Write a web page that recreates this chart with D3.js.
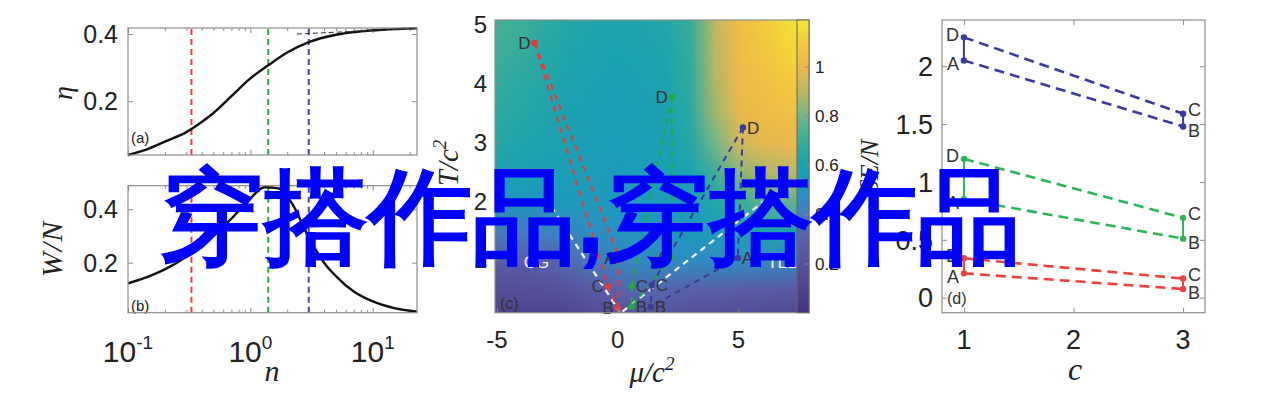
<!DOCTYPE html>
<html>
<head>
<meta charset="utf-8">
<script src="https://cdn.jsdelivr.net/npm/d3@7"></script>
<style>
body { margin: 0; background: #fff; }
figure { margin: 0; }
svg { display: block; }
text { font-family: "Liberation Sans", Arial, sans-serif; fill: #222; }
.math { font-family: "Liberation Serif", "DejaVu Serif", serif; font-style: italic; }
</style>
</head>
<body>
<figure id="chart"></figure>
<script>
// ---- data: panels (a) and (b), curves vs n
var nEta = [0.1, 0.15, 0.2, 0.3, 0.4, 0.5, 0.7, 1.0, 1.4, 2, 3, 5, 8, 12, 23];
var etaVals = [0.040, 0.060, 0.080, 0.108, 0.138, 0.165, 0.215, 0.268, 0.307, 0.345, 0.376, 0.398, 0.408, 0.413, 0.417];
var etaLimitN = [2.4, 23];
var etaLimitV = [0.400, 0.417];
var nW = [0.1, 0.15, 0.2, 0.3, 0.5, 0.7, 1.0, 1.3, 1.7, 2.2, 3, 4, 5, 7, 10, 15, 23];
var wVals = [0.123, 0.150, 0.175, 0.222, 0.300, 0.365, 0.440, 0.482, 0.478, 0.420, 0.295, 0.200, 0.150, 0.092, 0.055, 0.030, 0.017];
var nMarks = [0.33, 1.4, 3.0];
var markColors = ["#e8403a", "#22b04c", "#4848a8"];
var logTicks = [0.1, 1, 10];
var logExps = ["-1", "0", "1"];
var logMinor = [0.2, 0.3, 0.4, 0.5, 0.6, 0.7, 0.8, 0.9, 2, 3, 4, 5, 6, 7, 8, 9, 20];
var etaTicks = [0.2, 0.4];
var wTicks = [0.2, 0.4];

// ---- data: panel (c), heat map over mu/c^2 and T/c^2
var muGrid = [-5, -4, -3, -2, -1, 0, 1, 2, 3, 4, 5, 6, 7, 8];
var tGrid = [0, 0.5, 1, 1.5, 2, 2.5, 3, 3.5, 4, 4.5, 5];
var heat = [
  [0.10, 0.10, 0.10, 0.11, 0.14, 0.18, 0.19, 0.18, 0.16, 0.15, 0.14, 0.13, 0.12, 0.11],
  [0.18, 0.18, 0.19, 0.21, 0.26, 0.31, 0.33, 0.32, 0.30, 0.29, 0.28, 0.27, 0.26, 0.25],
  [0.28, 0.28, 0.30, 0.34, 0.39, 0.44, 0.46, 0.47, 0.47, 0.47, 0.47, 0.46, 0.45, 0.44],
  [0.40, 0.40, 0.42, 0.45, 0.48, 0.50, 0.51, 0.52, 0.53, 0.56, 0.59, 0.61, 0.61, 0.60],
  [0.52, 0.52, 0.53, 0.54, 0.54, 0.54, 0.55, 0.56, 0.58, 0.63, 0.70, 0.75, 0.77, 0.77],
  [0.60, 0.59, 0.58, 0.57, 0.56, 0.55, 0.56, 0.58, 0.61, 0.71, 0.83, 0.88, 0.90, 0.90],
  [0.64, 0.62, 0.61, 0.59, 0.57, 0.56, 0.57, 0.59, 0.64, 0.80, 0.94, 0.98, 1.00, 1.01],
  [0.66, 0.64, 0.62, 0.60, 0.58, 0.57, 0.58, 0.60, 0.66, 0.86, 0.99, 1.02, 1.04, 1.06],
  [0.68, 0.66, 0.63, 0.61, 0.59, 0.58, 0.59, 0.61, 0.67, 0.88, 1.01, 1.04, 1.08, 1.11],
  [0.70, 0.68, 0.64, 0.62, 0.61, 0.60, 0.61, 0.62, 0.68, 0.89, 1.02, 1.07, 1.12, 1.16],
  [0.72, 0.70, 0.66, 0.63, 0.62, 0.62, 0.62, 0.63, 0.69, 0.90, 1.03, 1.09, 1.16, 1.19]
];
var heatStops = [0.0, 0.15, 0.3, 0.42, 0.52, 0.6, 0.7, 0.8, 0.9, 1.0, 1.1, 1.19];
var heatColors = ["#45337e", "#534a94", "#5b60aa", "#3f82c2", "#1f97c0", "#1aa2b0", "#3aae98", "#72b588", "#bdb763", "#ebb84c", "#f4cc3c", "#f3e534"];
var cbTicks = [0.2, 0.4, 0.6, 0.8, 1];
var muTicks = [-5, 0, 5];
var tTicks = [1, 2, 3, 4, 5];

var stateNames = ["A", "B", "C", "D"];
var muRed = [0.08, 0.0, -0.41, -3.44];
var tRed = [1.03, 0.18, 0.55, 4.69];
var muGreen = [2.24, 0.58, 0.58, 2.24];
var tGreen = [1.03, 0.20, 0.55, 3.78];
var muBlue = [4.98, 1.37, 1.41, 5.19];
var tBlue = [1.03, 0.20, 0.57, 3.25];
var boundLeftMu = [-2.74, 0.08], boundLeftT = [1.9, 0.12];
var boundRightMu = [0.2, 7.0], boundRightT = [0.12, 2.3];
var regionNames = ["CG", "C", "TLL"];
var regionMu = [-3.36, 0.33, 6.8];
var regionT = [0.97, 1.99, 0.97];

// ---- data: panel (d), values vs c
var cTicks = [1, 2, 3];
var dTicks = [0, 0.5, 1, 1.5, 2];
var stateC = [1, 3, 3, 1];
var dRed = [0.21, 0.075, 0.165, 0.34];
var dGreen = [0.85, 0.51, 0.69, 1.20];
var dBlue = [2.05, 1.48, 1.59, 2.25];

var overlayText = "穿搭作品,穿搭作品";

// ---------------------------------------------------------------
var frameColor = "#8c8c8c";
var svg = d3.select("figure#chart")
    .append("svg")
    .attr("width", 1269)
    .attr("height", 401);

function ticks(g, axisFn, scale, values, len, transform) {
    var a = g.append("g")
        .attr("transform", transform)
        .call(axisFn(scale).tickValues(values).tickSize(-len).tickFormat(""));
    a.select(".domain").remove();
    a.selectAll("line").attr("stroke", frameColor);
}

function frame(g, x0, y0, x1, y1) {
    g.append("rect")
        .attr("x", x0).attr("y", y0)
        .attr("width", x1 - x0).attr("height", y1 - y0)
        .attr("fill", "none")
        .attr("stroke", frameColor)
        .attr("stroke-width", 1.2);
}

// ---- panels (a) and (b)
var xn = d3.scaleLog().domain([0.1, 23]).range([128, 417]);
var yEta = d3.scaleLinear().domain([0.04, 0.418]).range([155, 28]);
var yW = d3.scaleLinear().domain([0.013, 0.488]).range([312.7, 185.7]);

function logPanel(yScale, yTickVals, xs, ys, tag, tagY) {
    var g = svg.append("g");
    var y0 = yScale.range()[0], y1 = yScale.range()[1];
    ticks(g, d3.axisBottom, xn, logTicks, 5, `translate(0,${y0})`);
    ticks(g, d3.axisBottom, xn, logMinor, 3, `translate(0,${y0})`);
    ticks(g, d3.axisTop, xn, logTicks, 5, `translate(0,${y1})`);
    ticks(g, d3.axisTop, xn, logMinor, 3, `translate(0,${y1})`);
    ticks(g, d3.axisLeft, yScale, yTickVals, 5, `translate(${xn.range()[0]},0)`);
    ticks(g, d3.axisRight, yScale, yTickVals, 5, `translate(${xn.range()[1]},0)`);

    g.selectAll(".ylab")
        .data(yTickVals)
        .enter()
        .append("text")
        .attr("x", xn.range()[0] - 10)
        .attr("y", d => yScale(d))
        .attr("dy", "0.36em")
        .attr("text-anchor", "end")
        .attr("font-size", 25)
        .text(d => d3.format(".1f")(d));

    g.selectAll(".mark")
        .data(nMarks)
        .enter()
        .append("line")
        .attr("x1", d => xn(d)).attr("x2", d => xn(d))
        .attr("y1", y0).attr("y2", y1)
        .attr("stroke", (d, i) => markColors[i])
        .attr("stroke-width", 2)
        .attr("stroke-dasharray", "6,4");

    var line = d3.line()
        .x(d => xn(d[0]))
        .y(d => yScale(d[1]))
        .curve(d3.curveMonotoneX);
    g.append("path")
        .datum(xs.map((d, i) => [d, ys[i]]))
        .attr("d", line)
        .attr("fill", "none")
        .attr("stroke", "#111")
        .attr("stroke-width", 2.4);

    g.append("text")
        .attr("x", 131).attr("y", tagY)
        .attr("font-size", 15)
        .attr("fill", "#444")
        .text(tag);

    frame(g, xn.range()[0], y1, xn.range()[1], y0);
    return g;
}

var gA = logPanel(yEta, etaTicks, nEta, etaVals, "(a)", 143);
gA.append("path")
    .datum(etaLimitN.map((d, i) => [d, etaLimitV[i]]))
    .attr("d", d3.line().x(d => xn(d[0])).y(d => yEta(d[1])))
    .attr("fill", "none")
    .attr("stroke", "#333")
    .attr("stroke-width", 1)
    .attr("stroke-dasharray", "5,3");

var gB = logPanel(yW, wTicks, nW, wVals, "(b)", 311);

// log tick labels under (b)
var logLab = gB.selectAll(".xlab")
    .data(logTicks)
    .enter()
    .append("text")
    .attr("x", d => xn(d))
    .attr("y", 362)
    .attr("text-anchor", "middle")
    .attr("font-size", 30);
logLab.append("tspan").text("10");
logLab.append("tspan")
    .attr("dy", -13)
    .attr("font-size", 19)
    .text((d, i) => logExps[i]);

svg.append("text").attr("class", "math")
    .attr("transform", "translate(72,93) rotate(-90)")
    .attr("text-anchor", "middle")
    .attr("font-size", 28)
    .text("η");
svg.append("text").attr("class", "math")
    .attr("transform", "translate(62,249) rotate(-90)")
    .attr("text-anchor", "middle")
    .attr("font-size", 30)
    .attr("letter-spacing", 1)
    .text("W/N");
svg.append("text").attr("class", "math")
    .attr("x", 272).attr("y", 381)
    .attr("text-anchor", "middle")
    .attr("font-size", 30)
    .text("n");

// ---- panel (c)
var xc = d3.scaleLinear().domain([-5.08, 7.43]).range([495, 797]);
var yc = d3.scaleLinear().domain([0.1, 5.08]).range([312.7, 20]);
var heatColor = d3.scaleLinear().domain(heatStops).range(heatColors).clamp(true);
var yCb = d3.scaleLinear().domain([0, 1.19]).range([312.7, 20]);

var gC = svg.append("g");
var defs = svg.append("defs");
defs.append("clipPath").attr("id", "clipC")
    .append("rect")
    .attr("x", 495).attr("y", 20)
    .attr("width", 797 - 495).attr("height", 312.7 - 20);

var cv = document.createElement("canvas");
cv.width = muGrid.length;
cv.height = tGrid.length;
var ctx = cv.getContext("2d");
var img = ctx.createImageData(cv.width, cv.height);
heat.forEach(function(row, j) {
    row.forEach(function(v, i) {
        var c = d3.rgb(heatColor(v));
        var k = ((tGrid.length - 1 - j) * muGrid.length + i) * 4;
        img.data[k] = c.r;
        img.data[k + 1] = c.g;
        img.data[k + 2] = c.b;
        img.data[k + 3] = 255;
    });
});
ctx.putImageData(img, 0, 0);

var muStep = muGrid[1] - muGrid[0], tStep = tGrid[1] - tGrid[0];
gC.append("image")
    .attr("href", cv.toDataURL())
    .attr("x", xc(muGrid[0] - muStep / 2))
    .attr("y", yc(tGrid[tGrid.length - 1] + tStep / 2))
    .attr("width", xc(muGrid[muGrid.length - 1] + muStep / 2) - xc(muGrid[0] - muStep / 2))
    .attr("height", yc(tGrid[0] - tStep / 2) - yc(tGrid[tGrid.length - 1] + tStep / 2))
    .attr("preserveAspectRatio", "none")
    .attr("clip-path", "url(#clipC)");

// phase boundaries
[[boundLeftMu, boundLeftT], [boundRightMu, boundRightT]].forEach(function(b) {
    gC.append("path")
        .datum(b[0].map((d, i) => [d, b[1][i]]))
        .attr("d", d3.line().x(d => xc(d[0])).y(d => yc(d[1])))
        .attr("stroke", "#f4f4f4")
        .attr("stroke-width", 2.2)
        .attr("stroke-dasharray", "6,5")
        .attr("fill", "none");
});
gC.selectAll(".region")
    .data(regionNames)
    .enter()
    .append("text")
    .attr("x", (d, i) => xc(regionMu[i]))
    .attr("y", (d, i) => yc(regionT[i]))
    .attr("dy", "0.36em")
    .attr("text-anchor", "middle")
    .attr("font-size", 17)
    .style("fill", "#f2f2f2")
    .text(d => d);

// trajectories
var pairsC = [[3, 0], [3, 2], [0, 1], [2, 1]];
var tracks = [
    {mu: muRed, t: tRed, color: "#e63a3a", side: [-1, -1, -1, -1]},
    {mu: muGreen, t: tGreen, color: "#1faa45", side: [-1, 1, 1, -1]},
    {mu: muBlue, t: tBlue, color: "#3a3a9c", side: [1, 1, 1, 1]}
];
tracks.forEach(function(tr) {
    pairsC.forEach(function(p) {
        gC.append("line")
            .attr("x1", xc(tr.mu[p[0]])).attr("y1", yc(tr.t[p[0]]))
            .attr("x2", xc(tr.mu[p[1]])).attr("y2", yc(tr.t[p[1]]))
            .attr("stroke", tr.color)
            .attr("stroke-width", 2)
            .attr("stroke-dasharray", "6,5");
    });
    gC.selectAll(null)
        .data(stateNames)
        .enter()
        .append("circle")
        .attr("cx", (d, i) => xc(tr.mu[i]))
        .attr("cy", (d, i) => yc(tr.t[i]))
        .attr("r", 3.2)
        .attr("fill", tr.color);
    gC.selectAll(null)
        .data(stateNames)
        .enter()
        .append("text")
        .attr("x", (d, i) => xc(tr.mu[i]) + tr.side[i] * 4)
        .attr("y", (d, i) => yc(tr.t[i]))
        .attr("dy", "0.36em")
        .attr("text-anchor", (d, i) => tr.side[i] < 0 ? "end" : "start")
        .attr("font-size", 17)
        .style("fill", "#333")
        .text(d => d);
});

gC.append("text")
    .attr("x", 500).attr("y", 309)
    .attr("font-size", 16)
    .style("fill", "#333")
    .text("(c)");

ticks(gC, d3.axisBottom, xc, muTicks, 4, "translate(0,312.7)");
ticks(gC, d3.axisLeft, yc, tTicks, 4, "translate(495,0)");
frame(gC, 495, 20, 809, 312.7);

// colorbar
var grad = defs.append("linearGradient")
    .attr("id", "cbGrad")
    .attr("x1", 0).attr("y1", 1).attr("x2", 0).attr("y2", 0);
grad.selectAll("stop")
    .data(heatStops)
    .enter()
    .append("stop")
    .attr("offset", d => d / 1.19)
    .attr("stop-color", (d, i) => heatColors[i]);
gC.append("rect")
    .attr("x", 797).attr("y", 20)
    .attr("width", 12).attr("height", 312.7 - 20)
    .attr("fill", "url(#cbGrad)")
    .attr("stroke", "#666")
    .attr("stroke-width", 1);
ticks(gC, d3.axisRight, yCb, cbTicks, 4, "translate(809,0)");
gC.selectAll(".cblab")
    .data(cbTicks)
    .enter()
    .append("text")
    .attr("x", 815)
    .attr("y", d => yCb(d))
    .attr("dy", "0.36em")
    .attr("font-size", 17)
    .text(d => d === 1 ? "1" : d3.format(".1f")(d));

gC.selectAll(".xclab")
    .data(muTicks)
    .enter()
    .append("text")
    .attr("x", d => xc(d))
    .attr("y", 348)
    .attr("text-anchor", "middle")
    .attr("font-size", 24)
    .text(d => d);
gC.selectAll(".yclab")
    .data(tTicks)
    .enter()
    .append("text")
    .attr("x", 487)
    .attr("y", d => yc(d))
    .attr("dy", "0.36em")
    .attr("text-anchor", "end")
    .attr("font-size", 24)
    .text(d => d);

var muLab = svg.append("text").attr("class", "math")
    .attr("x", 652).attr("y", 382)
    .attr("text-anchor", "middle")
    .attr("font-size", 29);
muLab.append("tspan").text("μ/c");
muLab.append("tspan").attr("dy", -12).attr("font-size", 19).text("2");

var tLab = svg.append("text").attr("class", "math")
    .attr("transform", "translate(458,163) rotate(-90)")
    .attr("text-anchor", "middle")
    .attr("font-size", 29);
tLab.append("tspan").text("T/c");
tLab.append("tspan").attr("dy", -12).attr("font-size", 19).text("2");

svg.append("text").attr("class", "math")
    .attr("transform", "translate(878,166) rotate(-90)")
    .attr("text-anchor", "middle")
    .attr("font-size", 26)
    .text("δE/N");

// ---- panel (d)
var xd = d3.scaleLinear().domain([0.8, 3.2]).range([942, 1205]);
var yd = d3.scaleLinear().domain([-0.13, 2.4]).range([312.7, 20]);
var gD = svg.append("g");

ticks(gD, d3.axisBottom, xd, cTicks, 5, "translate(0,312.7)");
ticks(gD, d3.axisTop, xd, cTicks, 5, "translate(0,20)");
ticks(gD, d3.axisLeft, yd, dTicks, 5, "translate(942,0)");
ticks(gD, d3.axisRight, yd, dTicks, 5, "translate(1205,0)");

var pairsDash = [[3, 2], [0, 1]];
var pairsSolid = [[3, 0], [2, 1]];
var dLabelDy = [3, 4, -4, -3];
[[dRed, "#ee4242"], [dGreen, "#2cb65a"], [dBlue, "#3a3aa0"]].forEach(function(s) {
    var vals = s[0], col = s[1];
    pairsDash.forEach(function(p) {
        gD.append("line")
            .attr("x1", xd(stateC[p[0]])).attr("y1", yd(vals[p[0]]))
            .attr("x2", xd(stateC[p[1]])).attr("y2", yd(vals[p[1]]))
            .attr("stroke", col)
            .attr("stroke-width", 2.6)
            .attr("stroke-dasharray", "10,6");
    });
    pairsSolid.forEach(function(p) {
        gD.append("line")
            .attr("x1", xd(stateC[p[0]])).attr("y1", yd(vals[p[0]]))
            .attr("x2", xd(stateC[p[1]])).attr("y2", yd(vals[p[1]]))
            .attr("stroke", col)
            .attr("stroke-width", 2);
    });
    gD.selectAll(null)
        .data(stateNames)
        .enter()
        .append("circle")
        .attr("cx", (d, i) => xd(stateC[i]))
        .attr("cy", (d, i) => yd(vals[i]))
        .attr("r", 3.2)
        .attr("fill", col);
    gD.selectAll(null)
        .data(stateNames)
        .enter()
        .append("text")
        .attr("x", (d, i) => xd(stateC[i]) + (stateC[i] === 1 ? -5 : 5))
        .attr("y", (d, i) => yd(vals[i]) + dLabelDy[i])
        .attr("dy", "0.36em")
        .attr("text-anchor", (d, i) => stateC[i] === 1 ? "end" : "start")
        .attr("font-size", 18)
        .style("fill", "#333")
        .text(d => d);
});

gD.append("text")
    .attr("x", 947).attr("y", 304)
    .attr("font-size", 16)
    .style("fill", "#333")
    .text("(d)");

gD.selectAll(".xdlab")
    .data(cTicks)
    .enter()
    .append("text")
    .attr("x", d => xd(d))
    .attr("y", 349)
    .attr("text-anchor", "middle")
    .attr("font-size", 27)
    .text(d => d);
gD.selectAll(".ydlab")
    .data(dTicks)
    .enter()
    .append("text")
    .attr("x", 933)
    .attr("y", d => yd(d))
    .attr("dy", "0.36em")
    .attr("text-anchor", "end")
    .attr("font-size", 27)
    .text(d => d);
frame(gD, 942, 20, 1205, 312.7);

svg.append("text").attr("class", "math")
    .attr("x", 1075).attr("y", 380)
    .attr("text-anchor", "middle")
    .attr("font-size", 32)
    .text("c");

// ---- overlay caption
svg.append("text")
    .attr("x", 160)
    .attr("y", 253)
    .attr("font-family", "'Noto Sans CJK SC', sans-serif")
    .attr("font-weight", 700)
    .attr("font-size", 104)
    .style("fill", "#0000ff")
    .text(overlayText);
</script>
</body>
</html>
